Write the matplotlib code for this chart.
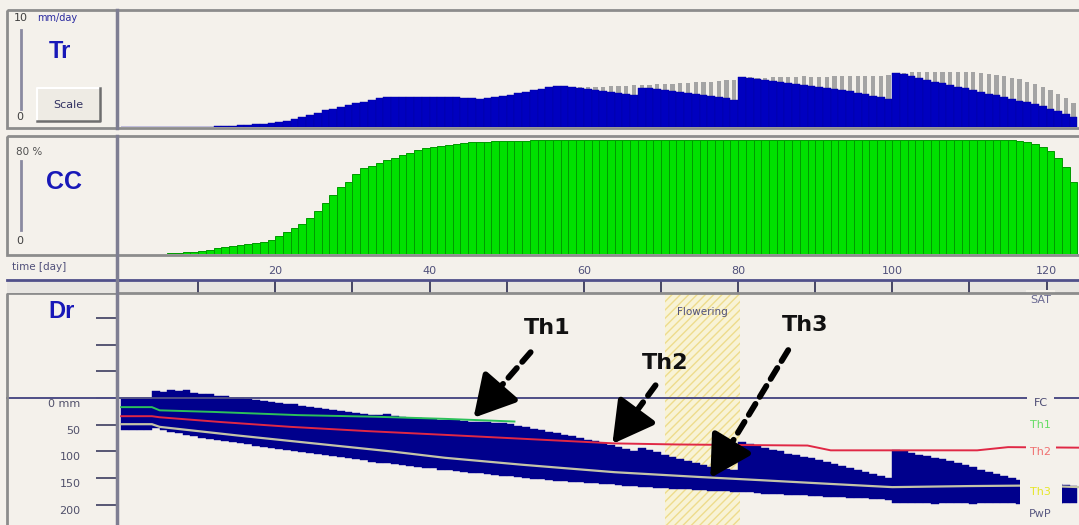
import matplotlib
matplotlib.use('Agg')
import matplotlib.pyplot as plt
import matplotlib.transforms as mtransforms
from matplotlib.patches import Rectangle
import numpy as np

# ---- data (day 1 .. 124) ----
days = np.arange(1, 125)

# transpiration, mm/day (blue = actual, gray = potential)
tr_actual = [0] * 12 + [
    0.05, 0.08, 0.12, 0.16, 0.2, 0.25, 0.3, 0.36, 0.43, 0.55, 0.7, 0.85,
    1.05, 1.25, 1.45, 1.6, 1.75, 1.9, 2.05, 2.2, 2.35, 2.5,
    2.6, 2.62, 2.6, 2.63, 2.61, 2.6, 2.62, 2.6, 2.58, 2.57,
    2.55, 2.5, 2.45, 2.5, 2.6, 2.7, 2.82, 2.95, 3.05, 3.2, 3.3, 3.45,
    3.55, 3.55, 3.5, 3.42, 3.3, 3.2, 3.1, 3.0, 2.92, 2.85, 2.78,
    3.4, 3.35, 3.28, 3.2, 3.12, 3.05, 2.98, 2.9, 2.8, 2.7, 2.6, 2.48, 2.35,
    4.35, 4.3, 4.2, 4.1, 4.0, 3.9, 3.8, 3.7, 3.65, 3.6,
    3.5, 3.4, 3.3, 3.2, 3.1, 2.98, 2.85, 2.72, 2.6, 2.45,
    4.7, 4.6, 4.45, 4.3, 4.12, 3.95, 3.8, 3.65, 3.5, 3.35,
    3.2, 3.05, 2.9, 2.75, 2.6, 2.45, 2.3, 2.15, 2.0, 1.8,
    1.6, 1.4, 1.15, 0.9]
tr_potential = tr_actual[:59] + [
    3.45, 3.48, 3.5, 3.52, 3.55, 3.58, 3.6, 3.62,
    3.65, 3.68, 3.72, 3.75, 3.78, 3.82, 3.85, 3.88, 3.9, 3.95, 4.0, 4.05, 4.1,
    4.35, 4.32, 4.3, 4.3, 4.32, 4.35, 4.35, 4.38, 4.4, 4.38,
    4.35, 4.38, 4.4, 4.42, 4.4, 4.4, 4.42, 4.45, 4.45, 4.5,
    4.7, 4.72, 4.75, 4.78, 4.8, 4.8, 4.82, 4.8, 4.8, 4.78,
    4.75, 4.7, 4.6, 4.5, 4.4, 4.3, 4.15, 3.95, 3.7, 3.45,
    3.2, 2.9, 2.5, 2.1]

# canopy cover, %
cc = [0] * 5 + [
    0.3, 0.5, 0.8, 1.1, 1.4, 2.0, 2.8, 3.8, 4.8, 5.6,
    6.4, 7.2, 7.8, 8.4, 10.0, 12.3, 15.0, 17.8, 21.0, 24.7,
    29.5, 35.0, 40.5, 46.0, 50.0, 55.0, 59.0, 61.0, 63.0, 64.5,
    66.0, 68.0, 70.0, 71.5, 73.0, 74.0, 74.8, 75.5, 76.0, 76.5,
    76.9, 77.2, 77.5, 77.7, 77.9, 78.0, 78.1, 78.2, 78.3, 78.4] + [78.5] * 60 + [
    78.3, 77.8, 77.0, 75.8, 74.0, 71.0, 66.5, 60.0, 50.0]

# root zone depletion (top of blue) and depletion at PWP (bottom of blue), mm
dr = [2, 2, 2, 2,
      -14, -12, -16, -13, -15, -10,
      -8, -7, -4, -3, -1, 0, 2, 4, 5, 7,
      9, 11, 12, 14, 16, 18, 20, 22, 24, 26,
      28, 29, 31, 32, 30, 34, 36, 37, 38, 39,
      40, 41, 41, 42, 43, 44, 44, 45, 46, 47,
      49, 52, 55, 58, 60, 63, 66, 69, 72, 75,
      78, 81, 84, 88, 92, 96, 100, 94, 98, 102,
      106, 110, 114, 118, 122, 126, 129, 131, 133, 135,
      82, 86, 90, 93, 97, 100, 104, 107, 110, 112,
      116, 120, 124, 128, 132, 135, 139, 142, 146, 150,
      97, 100, 103, 106, 109, 112, 115, 118, 122, 126,
      130, 134, 138, 142, 146, 150, 154, 157, 159, 160,
      161, 162, 163, 164]
taw = [60, 60, 60, 60,
       57, 60, 63, 66, 69, 72, 75, 77, 79, 81,
       83, 85, 87, 89, 91, 93, 95, 97, 99, 101,
       103, 105, 107, 109, 111, 113, 115, 117, 119, 121,
       122, 124, 126, 128, 129, 131, 132, 134, 135, 137,
       138, 140, 141, 143, 144, 146, 147, 148, 150, 151,
       152, 153, 155, 156, 157, 158, 159, 160, 161, 162,
       163, 164, 165, 166, 167, 168, 169, 170, 171, 171,
       172, 173, 174, 175, 175, 176, 177, 177, 178, 179,
       179, 180, 181, 182, 182, 183, 184, 185, 185, 186,
       187, 188, 188, 189, 190, 191, 196, 197, 197, 196,
       197, 198, 197, 197, 196, 197, 198, 197, 197, 196,
       197, 197, 198, 197, 196, 197, 197, 198, 197, 196]

# thresholds (mm depletion)
th1_days = [0, 4, 5, 12, 23, 33, 42, 51]
th1_vals = [17, 17, 23, 26, 32, 35, 39, 44]
th2_days = [0, 4, 5, 13, 22, 32, 42, 53, 64, 72, 80, 89, 92, 111, 115, 124.3]
th2_vals = [34, 34, 36, 45, 54, 62, 69, 77, 85, 87, 88, 89, 98, 98, 92, 93]
th3_days = [0, 4, 5, 15, 25, 35, 42, 52, 64, 75, 83, 92, 100, 110, 118, 124.3]
th3_vals = [49, 49, 54, 70, 85, 100, 112, 125, 139, 148, 154, 161, 167, 165, 164, 167]

flowering = (70.5, 80.3)
major_days = [20, 40, 60, 80, 100, 120]
minor_days = [10, 30, 50, 70, 90, 110]
dr_ticks = [-150, -100, -50, 0, 50, 100, 150, 200]
dr_ticklabels = ['', '', '', '0 mm', '50', '100', '150', '200']

# arrows: (label, tip day, tip mm, tail day, tail mm, text day, text mm)
arrows = [('Th1', 45.7, 37, 53.1, -86, 55.3, -131),
          ('Th2', 63.7, 86, 69.3, -24, 70.6, -66),
          ('Th3', 76.4, 150, 86.5, -90, 88.7, -137)]

# ---- look ----
W, H = 1079, 525
BG = '#F4F1EB'
EDGE = '#8C8C8C'
TXT = '#50507A'
TR_BLUE = '#0000C0'
DR_BLUE = '#00008C'
xlim = (-0.4, 124.2)


def box(x0, y0, x1, y1):
    return [x0 / W, 1 - y1 / H, (x1 - x0) / W, (y1 - y0) / H]


def main():
    fig = plt.figure(figsize=(W / 100, H / 100), dpi=100, facecolor=BG)

    # Tr panel
    ax_tr = fig.add_axes(box(118, 12, 1079, 127), facecolor=BG)
    ax_tr.bar(days - 0.5, tr_potential, width=0.55, color='#A4A4A4', linewidth=0)
    ax_tr.bar(days - 1, tr_actual, width=1, align='edge', color=TR_BLUE,
              edgecolor='#0000A0', linewidth=0.3)
    ax_tr.set_xlim(*xlim)
    ax_tr.set_ylim(0, 10)

    # CC panel
    ax_cc = fig.add_axes(box(118, 138, 1079, 254), facecolor=BG)
    ax_cc.bar(days - 1, cc, width=1, align='edge', color='#00E100',
              edgecolor='#009A00', linewidth=0.7)
    ax_cc.set_xlim(*xlim)
    ax_cc.set_ylim(0, 80)

    for a in (ax_tr, ax_cc):
        a.set_xticks([])
        a.set_yticks([])
        for s in a.spines.values():
            s.set_visible(False)

    # time axis strip
    ax_t = fig.add_axes(box(118, 280, 1079, 293), facecolor='#E7E5E1')
    ax_t.set_xlim(*xlim)
    ax_t.set_yticks([])
    ax_t.xaxis.tick_top()
    ax_t.set_xticks(major_days)
    ax_t.set_xticks(minor_days, minor=True)
    ax_t.tick_params(axis='x', which='both', direction='in', length=9.5,
                     width=1.3, color='#3A3A5A', labelsize=8,
                     labelcolor=TXT, pad=3)
    for s in ('left', 'right'):
        ax_t.spines[s].set_visible(False)
    ax_t.spines['top'].set_color('#50508A')
    ax_t.spines['top'].set_linewidth(2)
    ax_t.spines['bottom'].set_color(EDGE)

    # Dr panel
    ax_dr = fig.add_axes(box(118, 293, 1079, 525), facecolor=BG)
    ax_dr.set_xlim(*xlim)
    ax_dr.set_ylim(238, -197)
    ax_dr.axvspan(*flowering, facecolor='#F8F3D6', edgecolor='#EEDC8C',
                  hatch='////', linewidth=0, zorder=0)
    ax_dr.text(np.mean(flowering), 0.918, 'Flowering',
               transform=ax_dr.get_xaxis_transform(), ha='center', va='center',
               fontsize=7.5, color=TXT)
    ax_dr.bar(days - 1, np.array(taw) - np.array(dr), bottom=dr, width=1,
              align='edge', color=DR_BLUE, edgecolor=DR_BLUE, linewidth=0.3,
              zorder=2)
    ax_dr.plot(th1_days, th1_vals, color='#2CC05A', lw=1.4, zorder=3)
    ax_dr.plot(th2_days, th2_vals, color='#E02845', lw=1.4, zorder=3)
    ax_dr.plot(th3_days, th3_vals, color='#C4C4A8', lw=1.6, zorder=3)
    ax_dr.axhline(0, xmin=-0.1155, xmax=1, color='#4E4E86', lw=1.4,
                  clip_on=False, zorder=3)

    ax_dr.set_xticks([])
    ax_dr.set_yticks(dr_ticks, dr_ticklabels)
    ax_dr.tick_params(axis='y', direction='out', length=16, width=1.3,
                      color='#4A4A6A', labelsize=8, labelcolor='#50506A',
                      pad=11)
    shift = mtransforms.ScaledTranslation(0, -0.05, fig.dpi_scale_trans)
    for lbl in ax_dr.get_yticklabels():
        lbl.set_transform(lbl.get_transform() + shift)
    for s in ax_dr.spines.values():
        s.set_visible(False)

    # right-hand legend labels
    right_labels = [('SAT', -184, '#6A6A92', 0.4), ('FC', 9, '#4A4A72', 0.6),
                    ('Th1', 51, '#66DD66', 0.4), ('Th2', 101, '#F07070', 0.4),
                    ('Th3', 176, '#E6E628', 0.95), ('PwP', 217, '#5A5A82', 0.3)]
    for name, yv, col, pad in right_labels:
        ax_dr.text(0.96, yv, name, transform=ax_dr.get_yaxis_transform(),
                   ha='center', va='center', fontsize=8, color=col, zorder=6,
                   bbox=dict(boxstyle='square,pad=%s' % pad, facecolor=BG,
                             edgecolor='none'))

    # dashed arrows
    for name, tx, ty, sx, sy, lx, ly in arrows:
        ax_dr.annotate('', xy=(tx + 0.22 * (sx - tx), ty + 0.22 * (sy - ty)),
                       xytext=(sx, sy),
                       arrowprops=dict(arrowstyle='-', lw=4.2, color='black',
                                       ls=(0, (2.2, 1.4)), shrinkA=0,
                                       shrinkB=0), zorder=7)
        ax_dr.annotate('', xy=(tx, ty),
                       xytext=(tx + 0.25 * (sx - tx), ty + 0.25 * (sy - ty)),
                       arrowprops=dict(arrowstyle='-|>,head_length=1.25,head_width=0.7',
                                       lw=4.2, color='black', shrinkA=0,
                                       shrinkB=0, mutation_scale=20), zorder=7)
        ax_dr.text(lx, ly, name, ha='center', va='center', fontsize=16,
                   fontweight='bold', color='#111111', zorder=7)

    # frame, left column and labels drawn in pixel space
    ov = fig.add_axes([0, 0, 1, 1], zorder=5)
    ov.set_xlim(0, W)
    ov.set_ylim(H, 0)
    ov.axis('off')
    ov.patch.set_alpha(0)
    for y0, y1 in [(10, 128), (136, 255), (293, 527)]:
        ov.add_patch(Rectangle((7, y0), 1080, y1 - y0, fill=False,
                               edgecolor=EDGE, lw=2))
    ov.add_patch(Rectangle((7, 280), 110, 13, facecolor='#E7E5E1',
                           edgecolor='none'))
    ov.plot([7, 118], [280, 280], color='#50508A', lw=2)
    ov.plot([117, 117], [10, 128], color='#7E7E92', lw=2.5)
    ov.plot([117, 117], [136, 525], color='#7E7E92', lw=2.5)
    ov.text(12, 267, 'time [day]', fontsize=7.5, color=TXT, va='center')

    # Tr label box
    ov.text(14, 18, '10', fontsize=8, color='#404040', va='center')
    ov.text(37, 18, 'mm/day', fontsize=7, color='#2A2AA0', va='center')
    ov.text(60, 52, 'Tr', fontsize=17, fontweight='bold', color='#1818B8',
            ha='center', va='center', family='Liberation Sans')
    ov.plot([21, 21], [30, 109], color='#8A8AA0', lw=2)
    ov.text(16, 117, '0', fontsize=8, color='#404040', va='center')
    ov.add_patch(Rectangle((37, 88), 63, 33, facecolor='#EEEBE4',
                           edgecolor='none'))
    ov.plot([37, 37, 100], [121, 88, 88], color='white', lw=1.5)
    ov.plot([37, 100, 100], [121, 121, 88], color='#6E6E6E', lw=1.8)
    ov.text(68, 105, 'Scale', fontsize=8, color='#303060', ha='center',
            va='center')

    # CC label box
    ov.text(16, 152, '80 %', fontsize=7.5, color='#505050', va='center')
    ov.text(64, 182, 'CC', fontsize=18, fontweight='bold', color='#1818B8',
            ha='center', va='center', family='Liberation Sans')
    ov.plot([21, 21], [161, 230], color='#8A8AA0', lw=2)
    ov.text(16, 241, '0', fontsize=8, color='#404040', va='center')

    # Dr label
    ov.text(62, 312, 'Dr', fontsize=17, fontweight='bold', color='#1818B8',
            ha='center', va='center', family='Liberation Sans')

    fig.savefig('out.png', dpi=100, facecolor=BG)


if __name__ == '__main__':
    main()
